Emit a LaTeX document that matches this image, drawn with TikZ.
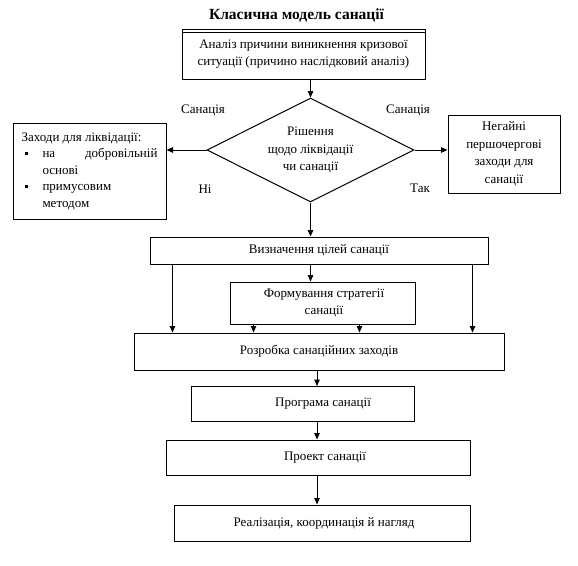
\documentclass[tikz,border=0pt]{standalone}
\usepackage{fontspec}
\setmainfont{Liberation Serif}
\usetikzlibrary{shapes.geometric,arrows.meta,calc}
\begin{document}
\begin{tikzpicture}[x=1pt,y=-1pt,
  every node/.style={font=\fontsize{13}{17.5}\selectfont},
  box/.style={draw,line width=1pt,inner sep=0pt,align=center},
  arr/.style={line width=1pt,-{Triangle[length=6.5pt,width=5.5pt]}},
  lbl/.style={inner sep=0pt}]
\useasboundingbox (0,0) rectangle (578,565);
\node[lbl,font=\fontsize{15.5}{18}\selectfont\bfseries] (title) at (296.5,15) {Класична модель санації};
\node[box,minimum width=243pt,minimum height=50pt] (top) at (303.5,54) {\rule{0pt}{6pt}Аналіз причини виникнення кризової\\ситуації (причино наслідковий аналіз)};
\draw[line width=1pt] ([yshift=-3.5pt]top.north west) -- ([yshift=-3.5pt]top.north east);
\node[draw,line width=1pt,diamond,aspect=2,minimum width=207pt,minimum height=104pt,inner sep=0pt,align=center] (dia) at (310.5,150) {Рішення\\щодо ліквідації\\чи санації};
\node[box,minimum width=153pt,minimum height=96pt,align=left] (left) at (89.5,171) {%
\begin{minipage}{136pt}\fontsize{13}{16.5}\selectfont
Заходи для ліквідації:\\
\makebox[21pt][l]{\hspace*{3pt}\rule[2.5pt]{3.5pt}{3.5pt}}на\hfill добровільній\\
\hspace*{21pt}основі\\
\makebox[21pt][l]{\hspace*{3pt}\rule[2.5pt]{3.5pt}{3.5pt}}примусовим\\
\hspace*{21pt}методом
\end{minipage}};
\node[box,minimum width=112pt,minimum height=78pt] (right) at (504,154) {Негайні\\першочергові\\заходи для\\санації};
\node[lbl] (l1) at (203,110) {Санація};
\node[lbl] (l2) at (205,189) {Ні};
\node[lbl] (l3) at (408,110) {Санація};
\node[lbl] (l4) at (420,188) {Так};
\node[box,minimum width=338pt,minimum height=27pt] (viz) at (319,250.5) {Визначення цілей санації};
\node[box,minimum width=185pt,minimum height=42pt] (form) at (322.5,303) {\hspace*{3pt}Формування стратегії\\\hspace*{3pt}санації};
\node[box,minimum width=370pt,minimum height=37pt] (rozr) at (319,351.5) {Розробка санаційних заходів};
\node[box,minimum width=223pt,minimum height=35pt] (prog) at (302.5,404) {\hspace*{41pt}Програма санації};
\node[box,minimum width=304pt,minimum height=35pt] (proj) at (318,457.5) {\hspace*{14pt}Проект санації};
\node[box,minimum width=296pt,minimum height=36pt] (real) at (322,523) {\hspace*{4pt}Реалізація, координація й нагляд};
% connectors
\draw[arr] (dia.north |- top.south) -- (dia.north);
\draw[arr] (dia.west) -- (dia.west -| left.east);
\draw[arr] (dia.east) -- (dia.east -| right.west);
\draw[arr] (dia.south) -- (dia.south |- viz.north);
\draw[arr] (dia.south |- viz.south) -- (dia.south |- form.north);
\draw[arr] ([xshift=23pt]viz.south west) -- ([xshift=23pt]viz.south west |- rozr.north);
\draw[arr] ([xshift=-16pt]viz.south east) -- ([xshift=-16pt]viz.south east |- rozr.north);
\draw[arr] ([xshift=24pt]form.south west) -- ([xshift=24pt]form.south west |- rozr.north);
\draw[arr] ([xshift=-56pt]form.south east) -- ([xshift=-56pt]form.south east |- rozr.north);
\draw[arr] ([xshift=-2pt]rozr.south) -- ([xshift=-2pt]rozr.south |- prog.north);
\draw[arr] ([xshift=-2pt]rozr.south |- prog.south) -- ([xshift=-2pt]rozr.south |- proj.north);
\draw[arr] ([xshift=-2pt]rozr.south |- proj.south) -- ([xshift=-2pt]rozr.south |- real.north);
\end{tikzpicture}
\end{document}
